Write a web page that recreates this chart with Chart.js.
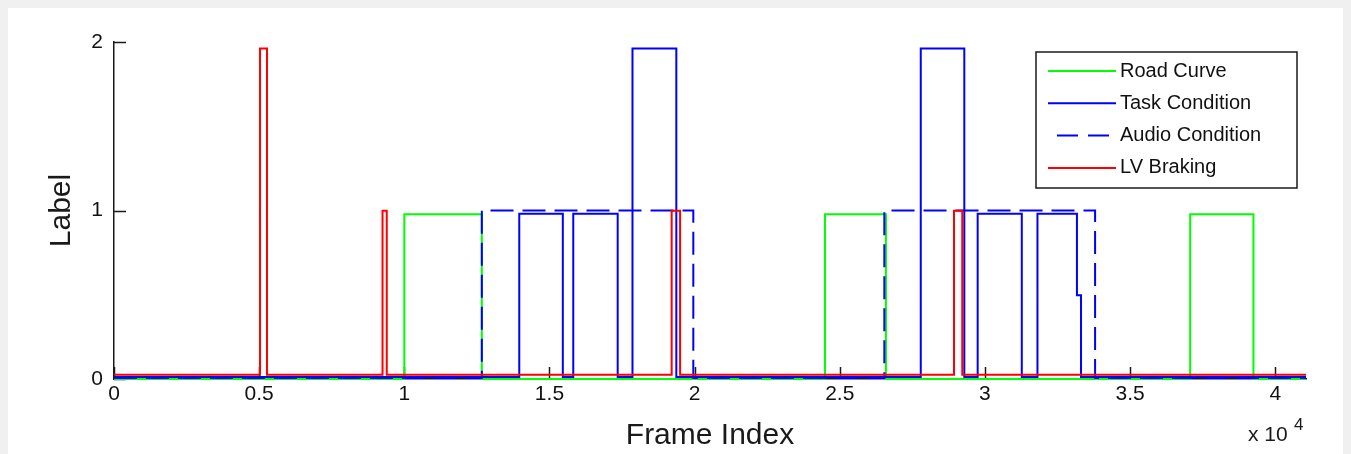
<!DOCTYPE html>
<html>
<head>
<meta charset="utf-8">
<script src="https://cdn.jsdelivr.net/npm/chart.js@4.4.1/dist/chart.umd.min.js"></script>
<style>
  html, body { margin: 0; padding: 0; background: #f0f0f0; }
  #wrap { position: relative; width: 1351px; height: 454px; }
</style>
</head>
<body>
<div id="wrap"><canvas id="labelChart"></canvas></div>
<script>
// step-change points (frame index where the value starts, and the value)
const roadFrames = [0, 10000, 12670, 24490, 26590, 37070, 39250, 41060];
const roadValues = [0, 0.978, 0, 0.978, 0, 0.978, 0, 0];

const taskFrames = [0, 13960, 15460, 15820, 17350, 17860, 19370, 27790, 29290, 29750, 31270, 31810, 33170, 33310, 41060];
const taskValues = [0.012, 0.98, 0.012, 0.98, 0.012, 1.962, 0.012, 1.962, 0.012, 0.98, 0.012, 0.98, 0.497, 0.012, 0.012];

const audioFrames = [0, 12670, 19955, 26535, 33795, 41060];
const audioValues = [0.006, 1.0, 0.006, 1.0, 0.006, 0.006];

const brakeFrames = [0, 5030, 5270, 9250, 9395, 19210, 19500, 28935, 29220, 41060];
const brakeValues = [0.025, 1.962, 0.025, 0.998, 0.025, 0.998, 0.025, 0.998, 0.025, 0.025];

const xTicks = [0, 5000, 10000, 15000, 20000, 25000, 30000, 35000, 40000];
const yTicks = [0, 1, 2];

const seriesNames = ['Road Curve', 'Task Condition', 'Audio Condition', 'LV Braking'];
const seriesColors = ['#00ff00', '#0000ff', '#0000ff', '#ff0000'];

function toPoints(frames, values) {
	return frames.map((f, i) => ({x: f, y: values[i]}));
}

const FONT = '"Liberation Sans", Arial, Helvetica, sans-serif';
const INK = '#1a1a1a';

// matlab-ish look: grey frame, inward ticks, boxed legend, x10^4 note
const matlabLook = {
	id: 'matlabLook',
	beforeDraw(chart) {
		let ctx = chart.ctx;
		ctx.save();
		ctx.fillStyle = '#f0f0f0';
		ctx.fillRect(0, 0, chart.width, chart.height);
		ctx.fillStyle = '#ffffff';
		ctx.fillRect(8, 8, 1335, chart.height - 8);
		ctx.restore();
	},
	beforeDatasetsDraw(chart) {
		let ctx = chart.ctx;
		let xs = chart.scales.x, ys = chart.scales.y;
		ctx.save();
		ctx.strokeStyle = INK;
		ctx.lineWidth = 1.5;
		ctx.beginPath();
		xs.ticks.forEach(t => {
			let px = Math.round(xs.getPixelForValue(t.value)) + 0.5;
			ctx.moveTo(px, ys.bottom);
			ctx.lineTo(px, ys.bottom - 12);
		});
		ys.ticks.forEach(t => {
			let py = Math.round(ys.getPixelForValue(t.value)) + 0.5;
			ctx.moveTo(xs.left, py);
			ctx.lineTo(xs.left + 12, py);
		});
		ctx.stroke();
		ctx.restore();
	},
	afterDraw(chart) {
		let ctx = chart.ctx;
		ctx.save();
		// legend box
		let bx = 1036, by = 52, bw = 261, bh = 136;
		ctx.fillStyle = '#ffffff';
		ctx.fillRect(bx, by, bw, bh);
		ctx.strokeStyle = '#1a1a1a';
		ctx.lineWidth = 1.5;
		ctx.strokeRect(bx, by, bw, bh);
		ctx.font = '20px ' + FONT;
		ctx.textBaseline = 'middle';
		ctx.textAlign = 'left';
		chart.data.datasets.forEach((ds, i) => {
			let y = 71 + i * 32.3;
			ctx.strokeStyle = ds.borderColor;
			ctx.lineWidth = 2;
			ctx.beginPath();
			if (ds.borderDash && ds.borderDash.length) {
				ctx.setLineDash([21, 10]);
				ctx.moveTo(1057, y);
				ctx.lineTo(1110, y);
			} else {
				ctx.setLineDash([]);
				ctx.moveTo(1048, y);
				ctx.lineTo(1116, y);
			}
			ctx.stroke();
			ctx.setLineDash([]);
			ctx.fillStyle = '#111111';
			ctx.fillText(ds.label, 1120, y);
		});
		// exponent note under the x axis
		ctx.fillStyle = INK;
		ctx.textBaseline = 'alphabetic';
		ctx.font = '21px ' + FONT;
		ctx.fillText('x 10', 1248, 441);
		ctx.font = '17px ' + FONT;
		ctx.fillText('4', 1294, 430);
		ctx.restore();
	}
};

let ctx = document.querySelector('#labelChart').getContext('2d');
new Chart(ctx, {
	type: 'line',
	data: {
		datasets: [
			{ label: seriesNames[0], data: toPoints(roadFrames, roadValues), borderColor: seriesColors[0], order: 4 },
			{ label: seriesNames[1], data: toPoints(taskFrames, taskValues), borderColor: seriesColors[1], order: 3 },
			{ label: seriesNames[2], data: toPoints(audioFrames, audioValues), borderColor: seriesColors[2], borderDash: [23, 9], order: 2 },
			{ label: seriesNames[3], data: toPoints(brakeFrames, brakeValues), borderColor: seriesColors[3], order: 1 }
		].map(d => Object.assign(d, {
			stepped: 'before',
			borderWidth: 2,
			pointRadius: 0,
			fill: false,
			clip: 6,
			tension: 0
		}))
	},
	plugins: [matlabLook],
	options: {
		responsive: true,
		maintainAspectRatio: false,
		animation: false,
		events: [],
		layout: { padding: { top: 42, right: 45, left: 0, bottom: 0 } },
		plugins: { legend: { display: false }, tooltip: { enabled: false } },
		scales: {
			x: {
				type: 'linear',
				min: 0,
				max: 41060,
				afterBuildTicks: s => { s.ticks = xTicks.map(v => ({value: v})); },
				afterFit: s => { s.height = 75; },
				grid: { display: false, drawTicks: false },
				border: { display: true, color: INK, width: 1.5 },
				ticks: {
					color: '#111111',
					padding: 3,
					maxRotation: 0,
					autoSkip: false,
					font: { family: FONT, size: 21 },
					callback: v => String(v / 10000)
				},
				title: {
					display: true,
					text: 'Frame Index',
					color: INK,
					font: { family: FONT, size: 30 },
					padding: { top: 0, bottom: 0 }
				}
			},
			y: {
				min: 0,
				max: 2,
				afterBuildTicks: s => { s.ticks = yTicks.map(v => ({value: v})); },
				afterFit: s => { s.width = 114; },
				grid: { display: false, drawTicks: false },
				border: { display: true, color: INK, width: 1.5 },
				ticks: {
					color: '#111111',
					padding: 11,
					font: { family: FONT, size: 21 }
				},
				title: {
					display: true,
					text: 'Label',
					color: INK,
					font: { family: FONT, size: 30 },
					padding: { top: 44, bottom: 0 }
				}
			}
		}
	}
});
</script>
</body>
</html>
